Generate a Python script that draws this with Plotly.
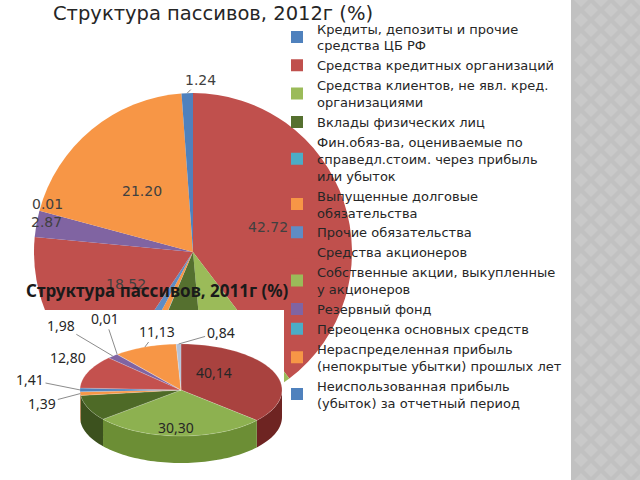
import numpy as np
import plotly.graph_objects as go

# ---------------- data ----------------
categories = [
    "Кредиты, депозиты и прочие<br>средства ЦБ РФ",
    "Средства кредитных организаций",
    "Средства клиентов, не явл. кред.<br>организациями",
    "Вклады физических лиц",
    "Фин.обяз-ва, оцениваемые по<br>справедл.стоим. через прибыль<br>или убыток",
    "Выпущенные долговые<br>обязательства",
    "Прочие обязательства",
    "Средства акционеров",
    "Собственные акции, выкупленные<br>у акционеров",
    "Резервный фонд",
    "Переоценка основных средств",
    "Нераспределенная прибыль<br>(непокрытые убытки) прошлых лет",
    "Неиспользованная прибыль<br>(убыток) за отчетный период",
]
values_2012 = [0, 42.72, 9.6, 8.4, 0.1, 1.5, 1.6, 18.52, 0, 2.87, 0.01, 21.20, 1.24]
values_2011 = [0, 40.14, 30.30, 10.0, 0, 1.39, 1.41, 12.80, 0, 1.98, 0.01, 11.13, 0.84]
# which data labels are visible in the picture
label_2012 = [False, True, False, False, False, False, False, True, False, True, True, True, True]
label_2011 = [False, True, True, False, False, True, True, True, False, True, True, True, True]

title_2012 = "Структура пассивов, 2012г (%)"
title_2011 = "Структура пассивов, 2011г (%)"

# ---------------- style ----------------
colors = ["#4F81BD", "#C0504D", "#9BBB59", "#55702F", "#4BACC6", "#F79646", "#5F8CC4",
          "#C0504D", "#9BBB59", "#8064A2", "#4BACC6", "#F79646", "#4F81BD"]
top_2011 = ["#4F81BD", "#A9423F", "#8DB150", "#4E6A27", "#4BACC6", "#F79646", "#4F81BD",
            "#C4514E", "#9BBB59", "#8064A2", "#4BACC6", "#F79646", "#B4C2D8"]
side_2011 = ["#3A6190", "#6E2422", "#6C8E35", "#3C511E", "#368399", "#C0702F", "#3A6190",
             "#8E3735", "#728C3F", "#5E4A79", "#368399", "#C0702F", "#8391A6"]

# 2012 pie placement (px)
PCX, PCY, PR = 193, 252, 159
# 2012 label placement: inside -> fraction of radius on bisector; outside -> px offset from rim
offs_2012 = {1: ("in", 0.5), 7: ("in", 0.47), 11: ("in", 0.5),
             9: ("out", (10, -2, False)), 10: ("out", (8, -7, False)), 12: ("out", (13, -13, True))}

# 2011 3D pie geometry (px)
CX, CY, RX, RY, DEPTH = 181, 390, 101, 46, 27
offs_2011 = {1: (-59, 1, False), 2: (-3, -8, False), 5: (-38, 10, True), 6: (-50, -10, True),
             7: (-20, -14, False), 9: (-52, -31, True), 10: (-12, -36, True),
             11: (12, -16, True), 12: (42, -12, True)}

FONT_MAIN = "DejaVu Sans"
FONT_XL = "Noto Sans"

fig = go.Figure()

# ---------------- 2012 pie ----------------
fig.add_trace(go.Pie(
    labels=categories, values=values_2012, sort=False, direction="clockwise", rotation=0,
    marker=dict(colors=colors, line=dict(width=0)),
    textinfo="none",
    domain=dict(x=[(PCX - PR) / 640, (PCX + PR) / 640],
                y=[1 - (PCY + PR) / 480, 1 - (PCY - PR) / 480]),
    hoverinfo="label+value", showlegend=True,
))

tot12 = float(sum(values_2012))
b12 = np.concatenate([[0], np.cumsum(values_2012)]) / tot12 * 360.0
mid12 = (b12[:-1] + b12[1:]) / 2

# ---------------- 2011 3D pie (shapes on pixel axes) ----------------
def rim(theta, dy=0.0):
    t = np.radians(theta)
    return CX + RX * np.sin(t), CY - RY * np.cos(t) + dy

tot = float(sum(values_2011))
bounds = np.concatenate([[0], np.cumsum(values_2011)]) / tot * 360.0

shapes = []
# slide right strip
shapes.append(dict(type="rect", xref="paper", yref="paper", x0=571 / 640, x1=1, y0=0, y1=1,
                   fillcolor="#C1C1C1", line=dict(width=0), layer="below"))
dpath = []
for j in range(0, 50):
    for i in range(0, 5):
        cx = 581 + 20 * i + 10 * (j % 2)
        cy = 10 * j
        dpath.append(f"M{cx},{cy - 7}L{cx + 7},{cy}L{cx},{cy + 7}L{cx - 7},{cy}Z")
shapes.append(dict(type="path", xref="x", yref="y", path="".join(dpath),
                   fillcolor="#C9C9C9", line=dict(width=0), layer="below"))

# white chart area of 2011 chart
shapes.append(dict(type="rect", xref="x", yref="y", x0=5, x1=284, y0=310, y1=480,
                   fillcolor="white", line=dict(width=0), layer="above"))

# sides
for k in range(len(values_2011)):
    a, b = bounds[k], bounds[k + 1]
    s, e = max(a, 90), min(b, 270)
    if e - s <= 0.05:
        continue
    th = np.linspace(s, e, max(3, int((e - s) / 2) + 3))
    xs, ys = rim(th)
    xb, yb = rim(th[::-1], DEPTH)
    pts = [f"{x:.2f},{y:.2f}" for x, y in zip(np.concatenate([xs, xb]), np.concatenate([ys, yb]))]
    shapes.append(dict(type="path", xref="x", yref="y", path="M" + "L".join(pts) + "Z",
                       fillcolor=side_2011[k], line=dict(width=0), layer="above"))
# tops
for k in range(len(values_2011)):
    a, b = bounds[k], bounds[k + 1]
    if b - a <= 0.0:
        continue
    th = np.linspace(a, b, max(3, int((b - a) / 2) + 3))
    xs, ys = rim(th)
    pts = [f"{CX},{CY}"] + [f"{x:.2f},{y:.2f}" for x, y in zip(xs, ys)]
    shapes.append(dict(type="path", xref="x", yref="y", path="M" + "L".join(pts) + "Z",
                       fillcolor=top_2011[k], line=dict(width=0.5, color="rgba(255,255,255,0.35)"),
                       layer="above"))

# invisible hover trace for the 2011 values (also defines the pixel axes)
mids = (bounds[:-1] + bounds[1:]) / 2
ax_, ay_ = rim(mids)
fig.add_trace(go.Scatter(
    x=ax_, y=ay_, mode="markers", marker=dict(size=1, opacity=0),
    hovertext=[f"{c.replace('<br>', ' ')}: {v}" for c, v in zip(categories, values_2011)],
    hoverinfo="text", showlegend=False,
))

annotations = []
# 2012 data labels
for k, show in enumerate(label_2012):
    if not show:
        continue
    kind, spec = offs_2012[k]
    t = np.radians(mid12[k])
    txt = f"{values_2012[k]:.2f}"
    common = dict(xref="x", yref="y", text=txt,
                  font=dict(family=FONT_MAIN, size=14, color="#404040"))
    if kind == "in":
        annotations.append(dict(x=PCX + spec * PR * np.sin(t), y=PCY - spec * PR * np.cos(t),
                                showarrow=False, **common))
    else:
        dx, dy, arrow = spec
        rx, ry = PCX + PR * np.sin(t), PCY - PR * np.cos(t)
        if arrow:
            annotations.append(dict(x=rx, y=ry, ax=dx, ay=dy, showarrow=True, arrowhead=0,
                                    arrowwidth=1, arrowcolor="#7F7F7F", standoff=0, **common))
        else:
            annotations.append(dict(x=rx + dx, y=ry + dy, showarrow=False, **common))

# 2011 title (drawn over the 2012 pie)
annotations.append(dict(xref="x", yref="y", x=157, y=290, text=title_2011, showarrow=False,
                        font=dict(family=FONT_XL, size=17, color="#1A1A1A", weight="bold")))

# 2011 data labels
for k, show in enumerate(label_2011):
    if not show:
        continue
    dx, dy, arrow = offs_2011[k]
    txt = f"{values_2011[k]:.2f}".replace(".", ",")
    common = dict(xref="x", yref="y", text=txt,
                  font=dict(family=FONT_XL, size=14, color="#262626"))
    if arrow:
        annotations.append(dict(x=ax_[k], y=ay_[k], ax=dx, ay=dy, showarrow=True, arrowhead=0,
                                arrowwidth=1, arrowcolor="#8C8C8C", standoff=0, **common))
    else:
        annotations.append(dict(x=ax_[k] + dx, y=ay_[k] + dy, showarrow=False, **common))

annotations.append(dict(xref="paper", yref="paper", x=213 / 640, y=1 - 13 / 480, text=title_2012,
                        showarrow=False, xanchor="center", yanchor="middle",
                        font=dict(family=FONT_MAIN, size=19.5, color="#262626")))

fig.update_layout(
    width=640, height=480, margin=dict(l=0, r=0, t=0, b=0),
    paper_bgcolor="white", plot_bgcolor="rgba(0,0,0,0)",
    xaxis=dict(range=[0, 640], visible=False, fixedrange=True, domain=[0, 1]),
    yaxis=dict(range=[480, 0], visible=False, fixedrange=True, domain=[0, 1]),
    shapes=shapes, annotations=annotations,
    legend=dict(x=277 / 640, y=1 - 13.5 / 480, xanchor="left", yanchor="top",
                bgcolor="rgba(0,0,0,0)", font=dict(family=FONT_MAIN, size=13, color="#262626"),
                traceorder="normal", itemwidth=30),
    showlegend=True,
)

fig.write_html("out.html")
